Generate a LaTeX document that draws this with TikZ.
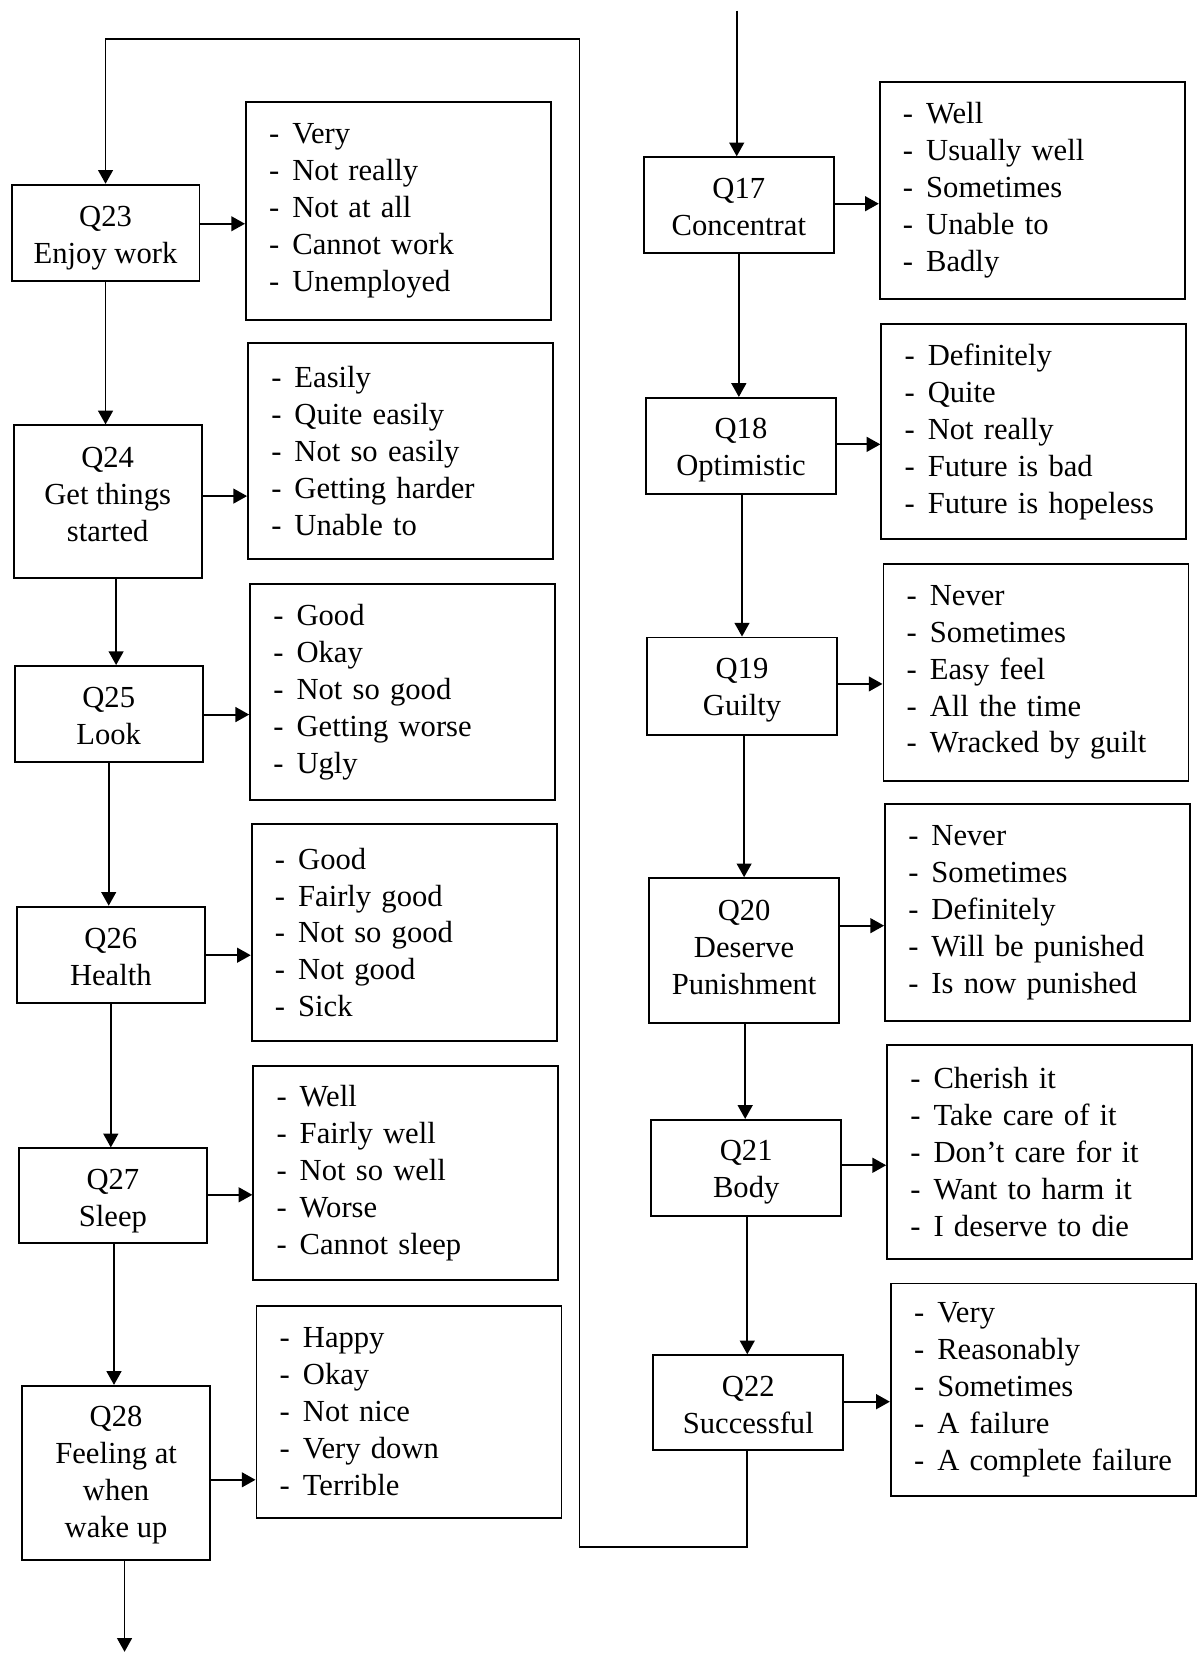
\documentclass[tikz,border=0pt]{standalone}
\usepackage{fontspec}
\setmainfont{Liberation Serif}
\usetikzlibrary{arrows.meta}
\newcommand\opt[1]{\makebox[22pt][l]{-}#1}
\begin{document}
\begin{tikzpicture}[x=1pt,y=1pt,
  txt/.style={font=\fontsize{29}{35}\selectfont},
  qbox/.style={draw, line width=1.8pt, minimum width=178pt, inner sep=0pt},
  qtxt/.style={txt, align=center, inner sep=0pt},
  abox/.style={txt, draw, line width=1.8pt, text width=245pt, inner xsep=22pt, inner ysep=0pt, align=left},
  arr/.style={line width=1.8pt, -{Triangle[length=13pt,width=14pt]}},
  ln/.style={line width=1.8pt}]
\useasboundingbox (0,0) rectangle (1139,-1568);

% left column questions
\node[qbox, minimum height=91pt]  (q23) at (100,-220.5) {};
\node[qtxt] (q23t) at ([yshift=-5pt]q23.center) {Q23\\Enjoy work};
\node[qbox, minimum height=145pt] (q24) at (102,-475.5) {};
\node[qtxt] (q24t) at ([yshift=7pt]q24.center) {Q24\\Get things\\started};
\node[qbox, minimum height=91pt]  (q25) at (103,-676.5) {};
\node[qtxt] (q25t) at ([yshift=-2pt]q25.center) {Q25\\Look};
\node[qbox, minimum height=91pt]  (q26) at (105,-904.5) {};
\node[qtxt] (q26t) at ([yshift=-2pt]q26.center) {Q26\\Health};
\node[qbox, minimum height=90pt]  (q27) at (107,-1133)  {};
\node[qtxt] (q27t) at ([yshift=-5pt]q27.center) {Q27\\Sleep};
\node[qbox, minimum height=165pt] (q28) at (110,-1395.5) {};
\node[qtxt] (q28t) at ([yshift=-2pt]q28.center) {Q28\\Feeling at\\when\\wake up};

% right column questions
\node[qbox, minimum width=180pt, minimum height=91pt]  (q17) at (700,-194.5) {};
\node[qtxt] (q17t) at ([yshift=-2pt]q17.center) {Q17\\Concentrat};
\node[qbox, minimum width=180pt, minimum height=91pt]  (q18) at (702,-422.5) {};
\node[qtxt] (q18t) at ([yshift=-4pt]q18.center) {Q18\\Optimistic};
\node[qbox, minimum width=180pt, minimum height=92pt]  (q19) at (703,-650)   {};
\node[qtxt] (q19t) at ([yshift=-4pt]q19.center) {Q19\\Guilty};
\node[qbox, minimum width=180pt, minimum height=137pt] (q20) at (705,-900.5) {};
\node[qtxt] (q20t) at ([yshift=3pt]q20.center) {Q20\\Deserve\\Punishment};
\node[qbox, minimum width=180pt, minimum height=91pt]  (q21) at (707,-1106.5) {};
\node[qtxt] (q21t) at ([yshift=-4pt]q21.center) {Q21\\Body};
\node[qbox, minimum width=180pt, minimum height=90pt]  (q22) at (709,-1329)  {};
\node[qtxt] (q22t) at ([yshift=-2pt]q22.center) {Q22\\Successful};

% left column answers
\node[abox, minimum height=206pt] (a23) at (377.5,-200) {\opt{Very}\\\opt{Not really}\\\opt{Not at all}\\\opt{Cannot work}\\\opt{Unemployed}};
\node[abox, minimum height=205pt] (a24) at (379.5,-427.5) {\opt{Easily}\\\opt{Quite easily}\\\opt{Not so easily}\\\opt{Getting harder}\\\opt{Unable to}};
\node[abox, minimum height=205pt] (a25) at (381.5,-655.5) {\opt{Good}\\\opt{Okay}\\\opt{Not so good}\\\opt{Getting worse}\\\opt{Ugly}};
\node[abox, minimum height=205pt] (a26) at (383,-883.5) {\opt{Good}\\\opt{Fairly good}\\\opt{Not so good}\\\opt{Not good}\\\opt{Sick}};
\node[abox, minimum height=203pt] (a27) at (384.5,-1111.5) {\opt{Well}\\\opt{Fairly well}\\\opt{Not so well}\\\opt{Worse}\\\opt{Cannot sleep}};
\node[abox, minimum height=201pt] (a28) at (387.5,-1337.5) {\opt{Happy}\\\opt{Okay}\\\opt{Not nice}\\\opt{Very down}\\\opt{Terrible}};

% right column answers
\node[abox, minimum height=205pt] (a17) at (978,-180.5) {\opt{Well}\\\opt{Usually well}\\\opt{Sometimes}\\\opt{Unable to}\\\opt{Badly}};
\node[abox, minimum height=204pt] (a18) at (979.5,-409) {\opt{Definitely}\\\opt{Quite}\\\opt{Not really}\\\opt{Future is bad}\\\opt{Future is hopeless}};
\node[abox, minimum height=206pt] (a19) at (981.5,-637) {\opt{Never}\\\opt{Sometimes}\\\opt{Easy feel}\\\opt{All the time}\\\opt{Wracked by guilt}};
\node[abox, minimum height=205pt] (a20) at (983,-864.5) {\opt{Never}\\\opt{Sometimes}\\\opt{Definitely}\\\opt{Will be punished}\\\opt{Is now punished}};
\node[abox, minimum height=203pt] (a21) at (985,-1091.5) {\opt{Cherish it}\\\opt{Take care of it}\\\opt{Don’t care for it}\\\opt{Want to harm it}\\\opt{I deserve to die}};
\node[abox, minimum height=201pt] (a22) at (988.5,-1316.5) {\opt{Very}\\\opt{Reasonably}\\\opt{Sometimes}\\\opt{A failure}\\\opt{A complete failure}};

% horizontal arrows to answers
\draw[arr] (q23.east |- 0,-212)  -- (a23.west |- 0,-212);
\draw[arr] (q24.east |- 0,-470)  -- (a24.west |- 0,-470);
\draw[arr] (q25.east |- 0,-677)  -- (a25.west |- 0,-677);
\draw[arr] (q26.east |- 0,-905)  -- (a26.west |- 0,-905);
\draw[arr] (q27.east |- 0,-1132) -- (a27.west |- 0,-1132);
\draw[arr] (q28.east |- 0,-1402) -- (a28.west |- 0,-1402);
\draw[arr] (q17.east |- 0,-193)  -- (a17.west |- 0,-193);
\draw[arr] (q18.east |- 0,-421)  -- (a18.west |- 0,-421);
\draw[arr] (q19.east |- 0,-648)  -- (a19.west |- 0,-648);
\draw[arr] (q20.east |- 0,-877)  -- (a20.west |- 0,-877);
\draw[arr] (q21.east |- 0,-1104) -- (a21.west |- 0,-1104);
\draw[arr] (q22.east |- 0,-1328) -- (a22.west |- 0,-1328);

% vertical arrows, left column
\draw[arr] (q23.south -| 100,0) -- (q24.north -| 100,0);
\draw[arr] (q24.south -| 110,0) -- (q25.north -| 110,0);
\draw[arr] (q25.south -| 103,0) -- (q26.north -| 103,0);
\draw[arr] (q26.south -| 105,0) -- (q27.north -| 105,0);
\draw[arr] (q27.south -| 108,0) -- (q28.north -| 108,0);
\coordinate (out) at (118,-1565);
\draw[arr] (q28.south -| out) -- (out);

% vertical arrows, right column
\coordinate (in) at (698,-10);
\draw[arr] (in) -- (q17.north -| in);
\draw[arr] (q17.south -| 700,0) -- (q18.north -| 700,0);
\draw[arr] (q18.south -| 703,0) -- (q19.north -| 703,0);
\draw[arr] (q19.south -| 705,0) -- (q20.north -| 705,0);
\draw[arr] (q20.south -| 706,0) -- (q21.north -| 706,0);
\draw[arr] (q21.south -| 708,0) -- (q22.north -| 708,0);

% loop back from Q22 to Q23
\coordinate (lb) at (549,-1466);
\coordinate (lt) at (549,-37);
\draw[arr] (q22.south -| 708,0) |- (lb) -- (lt) -| (q23.north);
\end{tikzpicture}
\end{document}
